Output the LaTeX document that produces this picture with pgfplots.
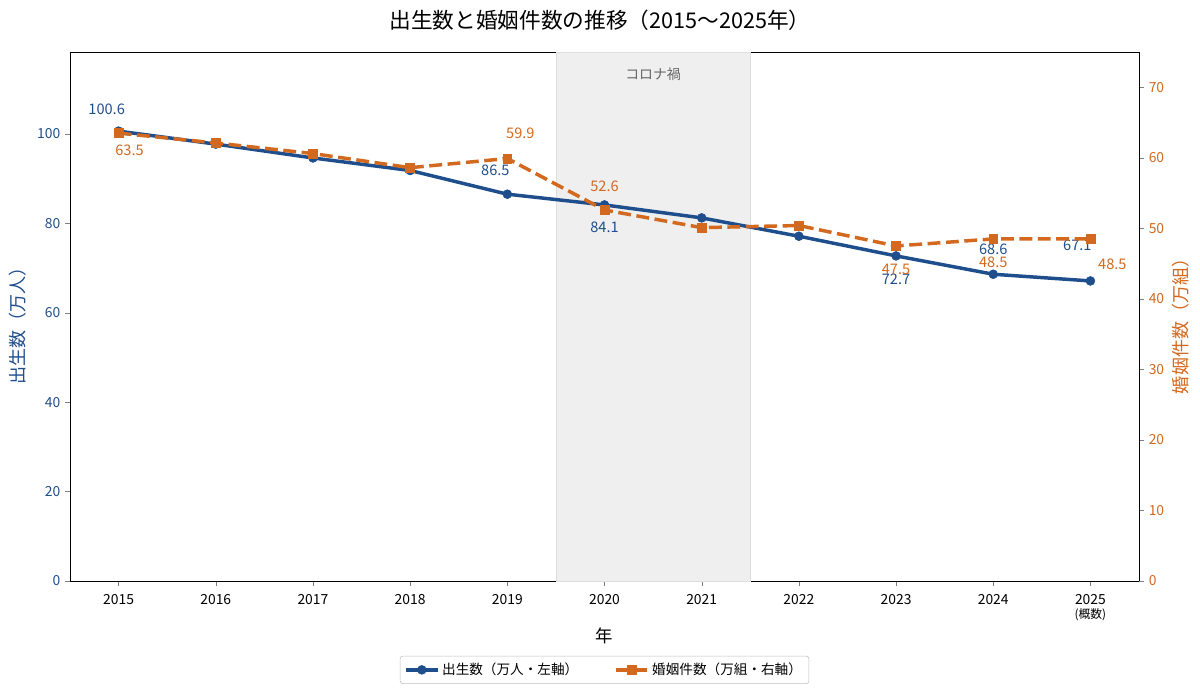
\documentclass[border=0pt]{standalone}
\usepackage{fontspec}
\setmainfont{Noto Sans CJK JP}
\usepackage{pgfplots}
\pgfplotsset{compat=1.18}
\definecolor{cblue}{RGB}{31,78,140}
\definecolor{corange}{RGB}{210,105,30}
\definecolor{shade}{RGB}{239,239,239}
\definecolor{shadeedge}{RGB}{222,222,222}
\begin{document}
\begin{tikzpicture}
\useasboundingbox (0,0) rectangle (864pt,499.68pt);
\node[font=\fontsize{15.6}{18}\selectfont] at (432pt,485pt) {出生数と婚姻件数の推移（2015〜2025年）};
\begin{axis}[
  at={(50.4pt,81.36pt)}, anchor=south west, scale only axis,
  width=769.68pt, height=380.88pt,
  xmin=2014.5, xmax=2025.5, ymin=0, ymax=118.3,
  clip=false,
  xtick={2015,2016,2017,2018,2019,2020,2021,2022,2023,2024,2025},
  xticklabels={2015,2016,2017,2018,2019,2020,2021,2022,2023,2024,{2025\\[-1pt]{\fontsize{8.5}{10}\selectfont (概数)}}},
  xtick pos=bottom, ytick pos=left,
  tick align=outside, major tick length=3.5pt,
  xticklabel style={align=center, font=\fontsize{10}{11}\selectfont, anchor=north, inner sep=2pt, yshift=-4pt},
  ytick={0,20,40,60,80,100},
  yticklabel style={text=cblue, font=\fontsize{10}{11}\selectfont},
  /pgf/number format/assume math mode=true,
  ylabel={出生数（万人）},
  ylabel style={text=cblue, font=\fontsize{13}{15}\selectfont, at={(axis description cs:-0.0486,0.49)}, anchor=center},
  xlabel={年},
  xlabel style={font=\fontsize{12.5}{14}\selectfont, at={(axis description cs:0.5,-0.104)}, anchor=center},
]
\addplot[fill=shade, draw=shadeedge, forget plot] coordinates {(2019.5,0) (2019.5,118.3) (2021.5,118.3) (2021.5,0)} -- cycle;
\node[text=black!60, font=\fontsize{10}{12}\selectfont] at (axis cs:2020.5,118.3) [yshift=-15.8pt] {コロナ禍};
\addplot[cblue, line width=2.5pt, mark=*, mark size=3.2pt, mark options={line width=0.4pt}] coordinates {
(2015,100.6) (2016,97.7) (2017,94.6) (2018,91.8) (2019,86.5) (2020,84.1)
(2021,81.2) (2022,77.1) (2023,72.7) (2024,68.6) (2025,67.1)};
\begin{scope}[every node/.style={text=cblue, font=\fontsize{10.5}{12}\selectfont}]
\node at (axis cs:2015,100.6) [xshift=-8.6pt, yshift=15.8pt] {100.6};
\node at (axis cs:2019,86.5) [xshift=-8.6pt, yshift=17.3pt] {86.5};
\node at (axis cs:2020,84.1) [yshift=-15.8pt] {84.1};
\node at (axis cs:2023,72.7) [yshift=-16.6pt] {72.7};
\node at (axis cs:2024,68.6) [yshift=18.3pt] {68.6};
\node at (axis cs:2025,67.1) [xshift=-9.4pt, yshift=25.9pt] {67.1};
\end{scope}
\end{axis}
\begin{axis}[
  at={(50.4pt,81.36pt)}, anchor=south west, scale only axis,
  width=769.68pt, height=380.88pt,
  xmin=2014.5, xmax=2025.5, ymin=0, ymax=75,
  clip=false,
  axis x line=none, axis y line*=right,
  tick align=outside, major tick length=3.5pt,
  ytick={0,10,20,30,40,50,60,70},
  yticklabel style={text=corange, font=\fontsize{10}{11}\selectfont},
  /pgf/number format/assume math mode=true,
  ylabel={婚姻件数（万組）},
  ylabel style={text=corange, font=\fontsize{13}{15}\selectfont, at={(axis description cs:1.0393,0.49)}, anchor=center, rotate=0},
  legend style={at={(0.5,-0.168)}, anchor=center, legend columns=2, draw=black!25, rounded corners=2pt,
    font=\fontsize{9.8}{11}\selectfont, inner sep=3pt,
    /tikz/every even column/.append style={column sep=24pt}},
  legend image code/.code={\draw[mark repeat=2,mark phase=2] plot coordinates {(0cm,0cm) (0.4cm,0cm) (0.8cm,0cm)};},
]
\addlegendimage{cblue, line width=2.5pt, mark=*, mark size=3.2pt, mark options={line width=0.4pt}}
\addlegendentry{出生数（万人・左軸）}
\addplot[corange, line width=2.5pt, dash pattern=on 9.25pt off 4pt, mark=square*, mark size=3.2pt, mark options={solid, line width=0.4pt}] coordinates {
(2015,63.5) (2016,62.1) (2017,60.6) (2018,58.6) (2019,59.9) (2020,52.6)
(2021,50.1) (2022,50.4) (2023,47.5) (2024,48.5) (2025,48.5)};
\addlegendentry{婚姻件数（万組・右軸）}
\begin{scope}[every node/.style={text=corange, font=\fontsize{10.5}{12}\selectfont}]
\node at (axis cs:2015,63.5) [xshift=7.9pt, yshift=-12.2pt] {63.5};
\node at (axis cs:2019,59.9) [xshift=9.4pt, yshift=18pt] {59.9};
\node at (axis cs:2020,52.6) [yshift=17.3pt] {52.6};
\node at (axis cs:2023,47.5) [yshift=-16.6pt] {47.5};
\node at (axis cs:2024,48.5) [yshift=-16.6pt] {48.5};
\node at (axis cs:2025,48.5) [xshift=15.8pt, yshift=-18pt] {48.5};
\end{scope}
\end{axis}
\end{tikzpicture}
\end{document}
